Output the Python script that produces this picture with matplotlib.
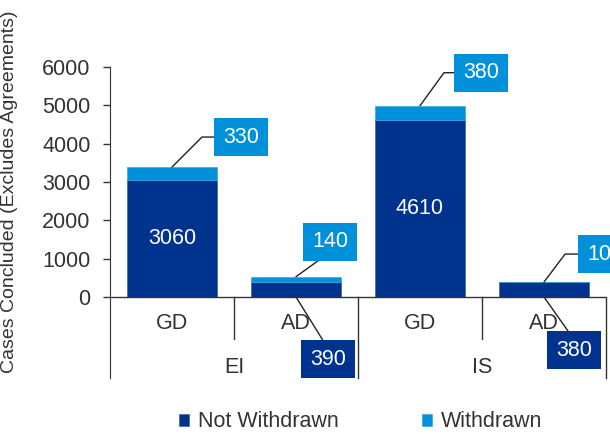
import matplotlib
matplotlib.use("Agg")
import matplotlib.pyplot as plt

plt.rcParams['font.family'] = ['Liberation Sans', 'DejaVu Sans']

sub_labels = ["GD", "AD", "GD", "AD"]
group_labels = ["EI", "IS"]
not_withdrawn = [3060, 390, 4610, 380]
withdrawn = [330, 140, 380, 10]

dark = "#00338D"
light = "#0091DA"
ink = "#333333"
fs = 15.5

fig = plt.figure(figsize=(6.1, 4.34), dpi=100)
ax = fig.add_axes([110/610, 56/434, 496/610, 311/434])

x = list(range(len(sub_labels)))
b1 = ax.bar(x, not_withdrawn, width=0.72, color=dark, edgecolor="#3d62ad", linewidth=0.5,
            label="Not Withdrawn", zorder=2)
b2 = ax.bar(x, withdrawn, width=0.72, bottom=not_withdrawn, color=light, edgecolor="#3aa7e3",
            linewidth=0.5, label="Withdrawn", zorder=2)

ax.set_xlim(-0.5, 3.5)
ax.set_ylim(-2113, 6000)
ax.set_yticks([0, 1000, 2000, 3000, 4000, 5000, 6000])
ax.set_xticks([])
ax.tick_params(axis='y', length=5, width=1, color=ink, labelsize=fs, labelcolor=ink, pad=9)
for s in ["top", "right", "bottom"]:
    ax.spines[s].set_visible(False)
ax.spines["left"].set_color(ink)
ax.axhline(0, color=ink, lw=1, zorder=3)

# category separators
for sx, bottom in [(0.5, -1100), (1.5, -2113), (2.5, -1100), (3.5, -2113)]:
    ax.plot([sx, sx], [0, bottom], color=ink, lw=1, clip_on=False)

for i, lab in enumerate(sub_labels):
    ax.text(i, -680, lab, ha="center", va="center", fontsize=fs, color=ink)
for j, lab in enumerate(group_labels):
    ax.text(0.5 + 2 * j, -1830, lab, ha="center", va="center", fontsize=fs, color=ink)

ax.set_ylabel("Cases Concluded (Excludes Agreements)", fontsize=14, color=ink)
ax.yaxis.set_label_coords(-0.185, 0.6)

# labels inside the big bars
for i in (0, 2):
    ax.text(i, not_withdrawn[i] / 2, str(not_withdrawn[i]), ha="center", va="center",
            fontsize=fs, color="white")

box = dict(boxstyle="square,pad=0.4", ec="none")

# withdrawn labels with elbow leaders
elbow = {0: ((69, 30), 45), 2: ((61, 33), 54), 3: ((55, 28), 53)}
for i, (off, ang) in elbow.items():
    ax.annotate(str(withdrawn[i]), xy=(i, not_withdrawn[i] + withdrawn[i]), xytext=off,
                textcoords="offset pixels", ha="center", va="center", fontsize=fs,
                color="white", bbox=dict(box, fc=light), annotation_clip=False,
                arrowprops=dict(arrowstyle="-", color="#222222", lw=1, relpos=(0, 0.5),
                                shrinkA=0, shrinkB=0,
                                connectionstyle="angle,angleA=0,angleB=%d,rad=0" % ang))

ax.annotate(str(withdrawn[1]), xy=(1, not_withdrawn[1] + withdrawn[1]), xytext=(34, 35),
            textcoords="offset pixels", ha="center", va="center", fontsize=fs, color="white",
            bbox=dict(box, fc=light),
            arrowprops=dict(arrowstyle="-", color="#222222", lw=1, relpos=(0.5, 0),
                            shrinkA=0, shrinkB=0))

# not-withdrawn labels for the small bars
for i, off in [(1, (32, -62)), (3, (30, -53))]:
    ax.annotate(str(not_withdrawn[i]), xy=(i, 0), xytext=off,
                textcoords="offset pixels", ha="center", va="center", fontsize=fs, color="white",
                bbox=dict(box, fc=dark), annotation_clip=False,
                arrowprops=dict(arrowstyle="-", color="#222222", lw=1, relpos=(0.5, 1),
                                shrinkA=0, shrinkB=0))

fig.legend(handles=[b1, b2], labels=["Not Withdrawn", "Withdrawn"], loc="center",
           bbox_to_anchor=(0.591, 0.028), ncol=2, frameon=False, fontsize=fs,
           handlelength=0.5, handleheight=0.5, handletextpad=0.4, columnspacing=3.85,
           labelcolor=ink)

fig.savefig("out.png", dpi=100)
